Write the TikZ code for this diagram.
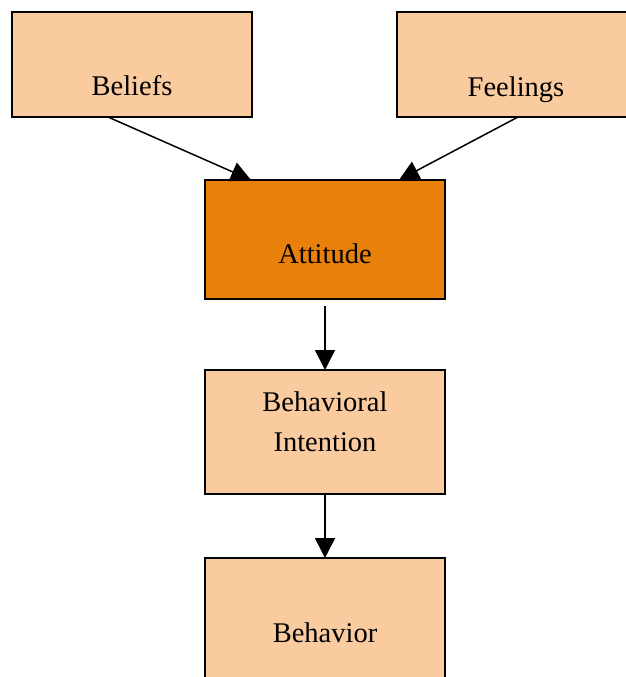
\documentclass[tikz,border=0pt]{standalone}
\usepackage{fontspec}
\setmainfont{Liberation Serif}
\usetikzlibrary{arrows.meta,calc}
\definecolor{lightor}{HTML}{FACB9F}
\definecolor{darkor}{HTML}{E8800A}
\begin{document}
\begin{tikzpicture}[x=1pt,y=-1pt,
  box/.style={draw=black, line width=1.5pt, minimum width=240pt, inner sep=0pt, outer sep=0pt},
  lbl/.style={anchor=base, inner sep=0pt, font=\fontsize{28.5}{34}\selectfont},
  arr/.style={draw=black, line width=1.5pt, -{Triangle[width=20pt,length=20pt]}}]
\useasboundingbox (0,0) rectangle (626,677);
\clip (0,0) rectangle (626,677);
\node[box, fill=lightor, minimum height=105pt] (beliefs) at (132,64.5) {};
\node[box, fill=lightor, minimum height=105pt] (feelings) at (517,64.5) {};
\node[box, fill=darkor, minimum height=119pt] (attitude) at (325,239.5) {};
\node[box, fill=lightor, minimum height=124pt] (intention) at (325,432) {};
\node[box, fill=lightor, minimum height=124pt] (behavior) at (325,620) {};
\node[lbl] (tbeliefs) at (132,95) {Beliefs};
\node[lbl] (tfeelings) at (516,96) {Feelings};
\node[lbl] (tattitude) at (325,263) {Attitude};
\node[lbl] (tbehavioral) at (325,411) {Behavioral};
\node[lbl] (tintention) at (325,451) {Intention};
\node[lbl] (tbehavior) at (325,642) {Behavior};
\draw[arr] ($(beliefs.south)+(-24,0)$) -- ($(attitude.north west)+(46,0)$);
\draw[arr] ($(feelings.south)+(1,0)$) -- ($(attitude.north east)+(-46,0)$);
\draw[arr] ($(attitude.south)+(0,7)$) -- (intention.north);
\draw[arr] (intention.south) -- (behavior.north);
\end{tikzpicture}
\end{document}
